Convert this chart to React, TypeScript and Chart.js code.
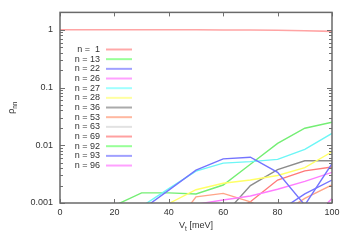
import React, { useEffect, useRef } from 'react';
import { Chart, registerables } from 'chart.js';

Chart.register(...registerables);

// ---- data ----
const vt = [0, 10, 20, 30, 40, 50, 60, 70, 80, 90, 100];
const xTicks = [0, 20, 40, 60, 80, 100];
const yMin = 0.001;
const yMax = 2;

const labels = ['n =  1', 'n = 13', 'n = 22', 'n = 26', 'n = 27', 'n = 28', 'n = 36', 'n = 53', 'n = 63', 'n = 69', 'n = 92', 'n = 93', 'n = 96'];

const n1 = [1, 1, 1, 1, 1, 1, 0.99, 0.99, 0.98, 0.96, 0.94];
const n13 = [null, null, null, null, null, null, null, null, null, null, null];
const n22 = [null, null, null, 0.00076, 0.00167, 0.0037, 0.0058, 0.0062, 0.0034, 0.00092, 0.0048];
const n26 = [null, null, null, null, null, 0.00095, 0.00113, 0.00132, 0.00173, 0.00237, 0.0034];
const n27 = [null, null, null, 0.00087, 0.00178, 0.00356, 0.0049, 0.0052, 0.0057, 0.0085, 0.016];
const n28 = [null, null, null, null, 0.00098, 0.0017, 0.0022, 0.0025, 0.003, 0.0041, 0.0077];
const n36 = [null, null, null, null, null, null, 0.0006, 0.002, 0.0038, 0.0054, 0.0054];
const n53 = [null, null, null, null, 0.0003, 0.00128, 0.00147, 0.00105, 0.0006, 0.0012, 0.00205];
const n63 = [null, null, null, null, null, null, null, null, null, null, null];
const n69 = [null, null, null, null, null, null, 0.0006, 0.00105, 0.0025, 0.0036, 0.0042];
const n92 = [null, null, 0.0009, 0.0015, 0.0015, 0.00143, 0.00205, 0.0047, 0.0108, 0.0197, 0.025];
const n93 = [null, null, null, null, null, null, null, null, 0.0007, 0.00144, 0.0025];
const n96 = [null, null, null, null, null, null, null, null, null, 0.0004, 0.0012];

const seriesValues = [n1, n13, n22, n26, n27, n28, n36, n53, n63, n69, n92, n93, n96];

// ---- styles ----
const lineColors = ['#ffa4a4', '#7cf07c', '#7474ff', '#ff7cff', '#6cf6f6', '#ffff66', '#8c8c8c', '#ffa488', '#d8d8d8', '#ff7a7a', '#74ee74', '#7474ff', '#ff7cff'];
const legendColors = ['#ffa8a8', '#98ff98', '#a0a0ff', '#ffa0ff', '#a0ffff', '#ffffa0', '#aaaaaa', '#ffb8a0', '#e2e2e2', '#ffa0a0', '#98ff98', '#a0a0ff', '#ffa0ff'];
const FONT = '"Liberation Sans", Arial, Helvetica, sans-serif';

const framePlugin = {
  id: 'frame',
  afterDatasetsDraw(chart: any) {
    const { ctx, chartArea: a, scales } = chart;
    const x = scales.x;
    const y = scales.y;
    ctx.save();
    // tick marks
    ctx.strokeStyle = '#707070';
    ctx.lineWidth = 1;
    ctx.beginPath();
    for (const v of xTicks) {
      const px = Math.round(x.getPixelForValue(v)) + 0.5;
      ctx.moveTo(px, a.bottom);
      ctx.lineTo(px, a.bottom - 4);
      ctx.moveTo(px, a.top);
      ctx.lineTo(px, a.top + 4);
    }
    for (let e = -3; e <= 0; e++) {
      for (let m = 1; m <= 9; m++) {
        const v = m * Math.pow(10, e);
        if (v > yMax || v < yMin) continue;
        const py = Math.round(y.getPixelForValue(v)) + 0.5;
        const len = m === 1 ? 5 : 3;
        ctx.moveTo(a.left, py);
        ctx.lineTo(a.left + len, py);
        ctx.moveTo(a.right, py);
        ctx.lineTo(a.right - len, py);
      }
    }
    ctx.stroke();
    // frame
    ctx.strokeStyle = '#6a6a6a';
    ctx.lineWidth = 1.5;
    ctx.strokeRect(a.left, a.top, a.right - a.left, a.bottom - a.top);

    // legend
    ctx.font = '9px ' + FONT;
    ctx.textAlign = 'right';
    ctx.textBaseline = 'middle';
    chart.data.datasets.forEach((ds: any, i: number) => {
      const ly = 49.5 + i * 9.67;
      ctx.fillStyle = '#333';
      ctx.fillText(ds.label, 100, ly);
      ctx.strokeStyle = legendColors[i];
      ctx.lineWidth = 2;
      ctx.beginPath();
      ctx.moveTo(106, ly);
      ctx.lineTo(132, ly);
      ctx.stroke();
    });

    // x title: V_t [meV]
    ctx.fillStyle = '#333';
    ctx.textAlign = 'left';
    ctx.textBaseline = 'middle';
    const cx = (a.left + a.right) / 2;
    ctx.font = '9px ' + FONT;
    const wV = ctx.measureText('V').width;
    ctx.font = '6.5px ' + FONT;
    const wt = ctx.measureText('t').width;
    ctx.font = '9px ' + FONT;
    const wRest = ctx.measureText(' [meV]').width;
    let sx = cx - (wV + wt + wRest) / 2;
    const ty = 226;
    ctx.fillText('V', sx, ty);
    ctx.font = '6.5px ' + FONT;
    ctx.fillText('t', sx + wV, ty + 3);
    ctx.font = '9px ' + FONT;
    ctx.fillText(' [meV]', sx + wV + wt, ty);

    // y title: rho_nn
    const cy = (a.top + a.bottom) / 2;
    ctx.translate(12, cy);
    ctx.rotate(-Math.PI / 2);
    ctx.font = '9px ' + FONT;
    const wr = ctx.measureText('ρ').width;
    ctx.font = '6.5px ' + FONT;
    const wn = ctx.measureText('nn').width;
    const s0 = -(wr + wn) / 2;
    ctx.font = '9px ' + FONT;
    ctx.fillText('ρ', s0, 0);
    ctx.font = '6.5px ' + FONT;
    ctx.fillText('nn', s0 + wr, 3);
    ctx.restore();
  },
};

function fmtDecade(v: number): string {
  const l = Math.log10(v);
  const e = Math.round(l);
  if (Math.abs(l - e) > 1e-6) return '';
  return e >= 0 ? String(Math.pow(10, e)) : Math.pow(10, e).toFixed(-e);
}

export default function App() {
  const ref = useRef<HTMLCanvasElement>(null);
  useEffect(() => {
    if (!ref.current) return;
    const datasets = seriesValues.map((vals, i) => ({
      label: labels[i],
      data: vt.map((xv, j) => ({ x: xv, y: vals[j] })),
      borderColor: lineColors[i],
      backgroundColor: lineColors[i],
      borderWidth: i === 0 ? 1.6 : 1.4,
      pointRadius: 0,
      tension: 0,
      fill: false,
      spanGaps: false,
    }));
    const chart = new Chart(ref.current, {
      type: 'line',
      data: { datasets },
      options: {
        animation: false,
        responsive: false,
        devicePixelRatio: 1,
        layout: { padding: { top: 11, right: 17, left: 0, bottom: 0 } },
        plugins: { legend: { display: false }, tooltip: { enabled: false } },
        scales: {
          x: {
            type: 'linear',
            min: 0,
            max: 100,
            grid: { display: false, drawTicks: false },
            border: { display: false },
            ticks: {
              stepSize: 20,
              padding: 4,
              color: '#333',
              font: { size: 9, family: FONT },
              maxRotation: 0,
            },
            afterFit: (s: any) => { s.height = 41; },
          },
          y: {
            type: 'logarithmic',
            min: yMin,
            max: yMax,
            grid: { display: false, drawTicks: false },
            border: { display: false },
            ticks: {
              autoSkip: false,
              padding: 7,
              color: '#333',
              font: { size: 9, family: FONT },
              callback: (v: any) => fmtDecade(Number(v)),
            },
            afterFit: (s: any) => { s.width = 60; },
          },
        },
      },
      plugins: [framePlugin],
    } as any);
    return () => chart.destroy();
  }, []);
  return (
    <div style={{ position: 'absolute', left: 0, top: 0, width: 349, height: 244, background: '#fff' }}>
      <canvas ref={ref} width={349} height={244} />
    </div>
  );
}
